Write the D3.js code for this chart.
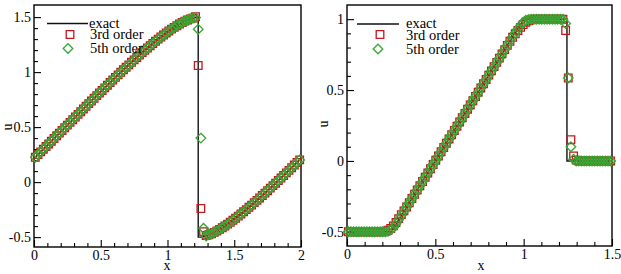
<!DOCTYPE html>
<html>
<head>
<meta charset="utf-8">
<script src="https://cdn.jsdelivr.net/npm/d3@7"></script>
<style>
  html, body { margin: 0; padding: 0; background: #fff; }
  svg { display: block; }
  text { font-family: "Liberation Serif", "Times New Roman", serif; fill: #000; }
</style>
</head>
<body>
<svg id="chart" width="621" height="274"></svg>
<script>
/* Two panels: u(x) for exact solution vs 3rd / 5th order schemes. */

// ---- left panel: sine wave with shock, 100 cells on [0,2] ----
const leftExact = [
  0.226, 0.251, 0.275, 0.299, 0.323, 0.347, 0.372, 0.396, 0.421, 0.445, 0.469, 0.494,
  0.518, 0.543, 0.567, 0.592, 0.616, 0.640, 0.665, 0.689, 0.713, 0.737, 0.762, 0.786,
  0.810, 0.833, 0.857, 0.881, 0.905, 0.928, 0.952, 0.975, 0.998, 1.021, 1.044, 1.066,
  1.089, 1.111, 1.133, 1.155, 1.177, 1.198, 1.219, 1.240, 1.260, 1.280, 1.300, 1.319,
  1.337, 1.356, 1.374, 1.391, 1.407, 1.422, 1.437, 1.451, 1.463, 1.474, 1.484, 1.491,
  1.497, 1.500,
  -0.499, -0.495, -0.488, -0.479, -0.469, -0.457, -0.444, -0.430, -0.415, -0.399,
  -0.382, -0.365, -0.347, -0.328, -0.309, -0.290, -0.270, -0.250, -0.229, -0.209,
  -0.187, -0.166, -0.144, -0.122, -0.100, -0.078, -0.055, -0.032, -0.010, 0.014,
  0.037, 0.060, 0.084, 0.107, 0.131, 0.155, 0.178, 0.202
];
const left3rd = [
  0.226, 0.251, 0.275, 0.299, 0.323, 0.347, 0.372, 0.396, 0.421, 0.445, 0.469, 0.494,
  0.518, 0.543, 0.567, 0.592, 0.616, 0.640, 0.665, 0.689, 0.713, 0.737, 0.762, 0.786,
  0.810, 0.833, 0.857, 0.881, 0.905, 0.928, 0.952, 0.975, 0.998, 1.021, 1.044, 1.066,
  1.089, 1.111, 1.133, 1.155, 1.177, 1.198, 1.219, 1.240, 1.260, 1.280, 1.300, 1.319,
  1.337, 1.356, 1.374, 1.391, 1.407, 1.422, 1.437, 1.451, 1.463, 1.474, 1.484, 1.491,
  1.503, 1.060,
  -0.240, -0.450, -0.486, -0.479, -0.469, -0.457, -0.444, -0.430, -0.415, -0.399,
  -0.382, -0.365, -0.347, -0.328, -0.309, -0.290, -0.270, -0.250, -0.229, -0.209,
  -0.187, -0.166, -0.144, -0.122, -0.100, -0.078, -0.055, -0.032, -0.010, 0.014,
  0.037, 0.060, 0.084, 0.107, 0.131, 0.155, 0.178, 0.202
];
const left5th = [
  0.226, 0.251, 0.275, 0.299, 0.323, 0.347, 0.372, 0.396, 0.421, 0.445, 0.469, 0.494,
  0.518, 0.543, 0.567, 0.592, 0.616, 0.640, 0.665, 0.689, 0.713, 0.737, 0.762, 0.786,
  0.810, 0.833, 0.857, 0.881, 0.905, 0.928, 0.952, 0.975, 0.998, 1.021, 1.044, 1.066,
  1.089, 1.111, 1.133, 1.155, 1.177, 1.198, 1.219, 1.240, 1.260, 1.280, 1.300, 1.319,
  1.337, 1.356, 1.374, 1.391, 1.407, 1.422, 1.437, 1.451, 1.463, 1.474, 1.484, 1.491,
  1.497, 1.390,
  0.400, -0.420, -0.490, -0.479, -0.469, -0.457, -0.444, -0.430, -0.415, -0.399,
  -0.382, -0.365, -0.347, -0.328, -0.309, -0.290, -0.270, -0.250, -0.229, -0.209,
  -0.187, -0.166, -0.144, -0.122, -0.100, -0.078, -0.055, -0.032, -0.010, 0.014,
  0.037, 0.060, 0.084, 0.107, 0.131, 0.155, 0.178, 0.202
];
const leftShock = [1.23, 1.5, -0.5];          // x, value before, value after
const leftXTicks = [0, 0.5, 1, 1.5, 2];
const leftYTicks = [-0.5, 0, 0.5, 1, 1.5];

// ---- right panel: rarefaction + shock, 100 cells on [0,1.5] ----
const rightExact = [
  -0.5, -0.5, -0.5, -0.5, -0.5, -0.5, -0.5, -0.5, -0.5, -0.5, -0.5, -0.5, -0.5, -0.5, -0.5, -0.5, -0.5,
  -0.475, -0.445, -0.415, -0.385, -0.355, -0.325, -0.295, -0.265, -0.235, -0.205,
  -0.175, -0.145, -0.115, -0.085, -0.055, -0.025, 0.005, 0.035, 0.065, 0.095,
  0.125, 0.155, 0.185, 0.215, 0.245, 0.275, 0.305, 0.335, 0.365, 0.395,
  0.425, 0.455, 0.485, 0.515, 0.545, 0.575, 0.605, 0.635, 0.665, 0.695,
  0.725, 0.755, 0.785, 0.815, 0.845, 0.875, 0.905, 0.935, 0.965, 0.995,
  1, 1, 1, 1, 1, 1, 1, 1, 1, 1, 1, 1, 1, 1, 1, 1,
  0, 0, 0, 0, 0, 0, 0, 0, 0, 0, 0, 0, 0, 0, 0, 0, 0
];
const right3rd = [
  -0.5, -0.5, -0.5, -0.5, -0.5, -0.5, -0.5, -0.5, -0.5, -0.5, -0.5, -0.5, -0.5,
  -0.499, -0.496, -0.489, -0.477, -0.458, -0.434, -0.407, -0.379, -0.352,
  -0.325, -0.295, -0.265, -0.235, -0.205,
  -0.175, -0.145, -0.115, -0.085, -0.055, -0.025, 0.005, 0.035, 0.065, 0.095,
  0.125, 0.155, 0.185, 0.215, 0.245, 0.275, 0.305, 0.335, 0.365, 0.395,
  0.425, 0.455, 0.485, 0.515, 0.545, 0.575, 0.605, 0.635, 0.665, 0.695,
  0.725, 0.755, 0.785, 0.815,
  0.844, 0.872, 0.897, 0.920, 0.942, 0.962, 0.978, 0.989, 0.995, 0.999,
  1, 1, 1, 1, 1, 1, 1, 1, 1, 1, 1,
  0.920, 0.585, 0.150, 0.035, 0.006,
  0, 0, 0, 0, 0, 0, 0, 0, 0, 0, 0, 0, 0
];
const right5th = [
  -0.5, -0.5, -0.5, -0.5, -0.5, -0.5, -0.5, -0.5, -0.5, -0.5, -0.5, -0.5, -0.5, -0.5,
  -0.499, -0.497, -0.488, -0.470, -0.443, -0.414,
  -0.385, -0.355, -0.325, -0.295, -0.265, -0.235, -0.205,
  -0.175, -0.145, -0.115, -0.085, -0.055, -0.025, 0.005, 0.035, 0.065, 0.095,
  0.125, 0.155, 0.185, 0.215, 0.245, 0.275, 0.305, 0.335, 0.365, 0.395,
  0.425, 0.455, 0.485, 0.515, 0.545, 0.575, 0.605, 0.635, 0.665, 0.695,
  0.725, 0.755, 0.785, 0.815, 0.845, 0.875,
  0.903, 0.930, 0.956, 0.978, 0.992, 0.998,
  1, 1, 1, 1, 1, 1, 1, 1, 1, 1, 1, 1, 1,
  0.970, 0.585, 0.100, 0.012,
  0, 0, 0, 0, 0, 0, 0, 0, 0, 0, 0, 0, 0, 0
];
const rightShock = [1.245, 1, 0];
const rightXTicks = [0, 0.5, 1, 1.5];
const rightYTicks = [-0.5, 0, 0.5, 1];

const seriesNames = ["exact", "3rd order", "5th order"];

// uniform meshes (cell centres)
const leftMesh = d3.range(100).map(i => +(0.01 + 0.02 * i).toFixed(4));
const rightMesh = d3.range(100).map(i => +(0.0075 + 0.015 * i).toFixed(4));

const RED = "#c4161c";
const GREEN = "#36a832";
const FONT = '"Liberation Serif", "Times New Roman", serif';

const svg = d3.select("#chart");
svg.append("rect").attr("width", 621).attr("height", 274).attr("fill", "#fff");

const panels = [
  {
    box: [34, 301, 5, 247], xDom: [0, 2], yDom: [-0.59, 1.61],
    xTicks: leftXTicks, yTicks: leftYTicks, xMinorRange: [0, 2], yMinorRange: [-0.5, 1.5],
    mesh: leftMesh, exact: leftExact, o3: left3rd, o5: left5th, shock: leftShock,
    uLab: [8, 127], xLab: [167, 270],
    legend: { line: [47, 88, 23.5], textX: [89, 90, 90], base: [27.5, 39, 53], sq: [70, 34.5], dia: [68, 48.5] }
  },
  {
    box: [347, 612, 5, 246], xDom: [0, 1.5], yDom: [-0.6, 1.1],
    xTicks: rightXTicks, yTicks: rightYTicks, xMinorRange: [0, 1.5], yMinorRange: [-0.5, 1],
    mesh: rightMesh, exact: rightExact, o3: right3rd, o5: right5th, shock: rightShock,
    uLab: [324, 124], xLab: [481, 270],
    legend: { line: [357, 399, 24], textX: [406, 406, 406], base: [27.5, 39.5, 54], sq: [380, 34.5], dia: [378, 49] }
  }
];

const squarePath = "M-3.8,-3.8H3.8V3.8H-3.8Z";
const diamondPath = "M0,-4.8L4.8,0L0,4.8L-4.8,0Z";

function minors(range, majors) {
  return d3.range(range[0], range[1] + 1e-9, 0.1)
    .map(v => +v.toFixed(2))
    .filter(v => !majors.some(m => Math.abs(m - v) < 1e-6));
}

function exactPoints(mesh, vals, shock) {
  const pts = [];
  let done = false;
  mesh.forEach((x, i) => {
    if (!done && x > shock[0]) {
      pts.push([shock[0], shock[1]], [shock[0], shock[2]]);
      done = true;
    }
    pts.push([x, vals[i]]);
  });
  return pts;
}

panels.forEach(p => {
  const [L, R, T, B] = p.box;
  const x = d3.scaleLinear().domain(p.xDom).range([L, R]);
  const y = d3.scaleLinear().domain(p.yDom).range([B, T]);
  const g = svg.append("g");

  // axes: ticks point inward
  const fmt = d => String(d);
  const yAx = g.append("g").attr("transform", `translate(${L},0)`)
    .call(d3.axisLeft(y).tickValues(p.yTicks).tickSize(-7).tickPadding(3).tickFormat(fmt));
  const yMin = g.append("g").attr("transform", `translate(${L},0)`)
    .call(d3.axisLeft(y).tickValues(minors(p.yMinorRange, p.yTicks)).tickSize(-4).tickFormat(""));
  const xAx = g.append("g").attr("transform", `translate(0,${B})`)
    .call(d3.axisBottom(x).tickValues(p.xTicks).tickSize(-7).tickPadding(3).tickFormat(fmt));
  const xMin = g.append("g").attr("transform", `translate(0,${B})`)
    .call(d3.axisBottom(x).tickValues(minors(p.xMinorRange, p.xTicks)).tickSize(-4).tickFormat(""));
  [yAx, yMin, xAx, xMin].forEach(a => {
    a.select(".domain").remove();
    a.selectAll("line").attr("stroke", "#000").attr("stroke-width", 1.1);
    a.selectAll("text").attr("font-family", FONT).attr("font-size", 14).attr("fill", "#000");
  });

  // frame
  g.append("rect").attr("x", L).attr("y", T).attr("width", R - L).attr("height", B - T)
    .attr("fill", "none").attr("stroke", "#000").attr("stroke-width", 1.4);

  // axis titles
  g.append("text").attr("transform", `translate(${p.uLab[0]},${p.uLab[1]}) rotate(-90)`)
    .attr("text-anchor", "middle").attr("dy", "0.3em").attr("font-size", 14).text("u");
  g.append("text").attr("x", p.xLab[0]).attr("y", p.xLab[1])
    .attr("text-anchor", "middle").attr("font-size", 14).text("x");

  // exact solution
  g.append("path")
    .datum(exactPoints(p.mesh, p.exact, p.shock))
    .attr("fill", "none").attr("stroke", "#111").attr("stroke-width", 1.4)
    .attr("d", d3.line().x(d => x(d[0])).y(d => y(d[1])));

  // 3rd order squares
  g.append("g").selectAll("path")
    .data(p.mesh.map((v, i) => [v, p.o3[i]]))
    .join("path")
    .attr("d", squarePath)
    .attr("transform", d => `translate(${x(d[0])},${y(d[1])})`)
    .attr("fill", "none").attr("stroke", RED).attr("stroke-width", 1.3);

  // 5th order diamonds
  g.append("g").selectAll("path")
    .data(p.mesh.map((v, i) => [v, p.o5[i]]))
    .join("path")
    .attr("d", diamondPath)
    .attr("transform", d => `translate(${x(d[0])},${y(d[1])})`)
    .attr("fill", "none").attr("stroke", GREEN).attr("stroke-width", 1.3);

  // legend
  const lg = p.legend;
  g.append("line").attr("x1", lg.line[0]).attr("x2", lg.line[1])
    .attr("y1", lg.line[2]).attr("y2", lg.line[2])
    .attr("stroke", "#111").attr("stroke-width", 1.4);
  g.append("path").attr("d", squarePath)
    .attr("transform", `translate(${lg.sq[0]},${lg.sq[1]})`)
    .attr("fill", "none").attr("stroke", RED).attr("stroke-width", 1.3);
  g.append("path").attr("d", diamondPath)
    .attr("transform", `translate(${lg.dia[0]},${lg.dia[1]})`)
    .attr("fill", "none").attr("stroke", GREEN).attr("stroke-width", 1.3);
  seriesNames.forEach((name, i) => {
    g.append("text").attr("x", lg.textX[i]).attr("y", lg.base[i])
      .attr("font-size", 14.5).text(name);
  });
});
</script>
</body>
</html>
